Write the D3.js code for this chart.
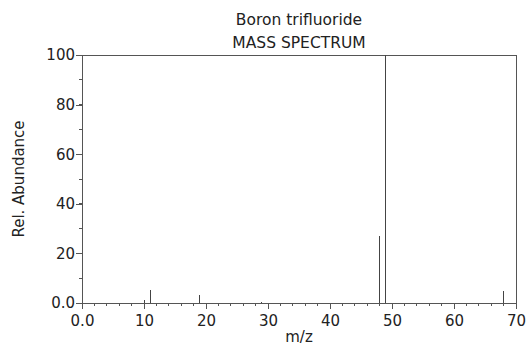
<!DOCTYPE html>
<html>
<head>
<meta charset="utf-8">
<script src="https://cdn.jsdelivr.net/npm/d3@7"></script>
<style>
  body { margin: 0; background: #fff; }
  svg text { font-family: "DejaVu Sans", sans-serif; fill: #222; }
</style>
</head>
<body>
<div id="chart"></div>
<script>
const title = "Boron trifluoride";
const subtitle = "MASS SPECTRUM";
const mz = [10, 11, 19, 29, 48, 49, 68];
const abundance = [1.3, 5.2, 3.2, 0.4, 27, 100, 4.9];
const xTicks = [0, 10, 20, 30, 40, 50, 60, 70];
const yTicks = [0, 20, 40, 60, 80, 100];

const margin = { top: 55, right: 12, bottom: 44, left: 82 },
  width = 528 - margin.left - margin.right,
  height = 347 - margin.top - margin.bottom;

const svg = d3.select("#chart")
  .append("svg")
  .attr("width", 528)
  .attr("height", 347);

const g = svg.append("g")
  .attr("transform", `translate(${margin.left},${margin.top})`);

const x = d3.scaleLinear().domain([0, 70]).range([0, width]);
const y = d3.scaleLinear().domain([0, 100]).range([height, 0]);

const lineColor = "#555";

// frame
g.append("rect")
  .attr("x", 0).attr("y", 0)
  .attr("width", width).attr("height", height)
  .attr("fill", "none")
  .attr("stroke", lineColor)
  .attr("stroke-width", 1)
  .attr("shape-rendering", "crispEdges");

// minor ticks
g.selectAll("line.xminor")
  .data(d3.range(0, 71, 2))
  .join("line")
  .attr("x1", d => x(d)).attr("x2", d => x(d))
  .attr("y1", height).attr("y2", height + 3)
  .attr("stroke", lineColor)
  .attr("shape-rendering", "crispEdges");

g.selectAll("line.yminor")
  .data(d3.range(0, 101, 10))
  .join("line")
  .attr("x1", -3).attr("x2", 0)
  .attr("y1", d => y(d)).attr("y2", d => y(d))
  .attr("stroke", lineColor)
  .attr("shape-rendering", "crispEdges");

const xAxis = g.append("g")
  .attr("transform", `translate(0,${height})`)
  .call(d3.axisBottom(x).tickValues(xTicks).tickSize(6).tickSizeOuter(0)
    .tickFormat(d => d === 0 ? "0.0" : d));

const yAxis = g.append("g")
  .call(d3.axisLeft(y).tickValues(yTicks).tickSize(6).tickSizeOuter(0)
    .tickFormat(d => d === 0 ? "0.0" : d));

[xAxis, yAxis].forEach(a => {
  a.select(".domain").remove();
  a.selectAll("line").attr("stroke", lineColor).attr("shape-rendering", "crispEdges");
  a.selectAll("text").style("font-size", "15px").style("font-family", "DejaVu Sans, sans-serif").attr("fill", "#222");
});
xAxis.selectAll("text").attr("dy", "0.9em");
yAxis.selectAll("text").attr("x", -7);

// peaks
g.selectAll("line.peak")
  .data(mz.map((m, i) => ({ m, a: abundance[i] })))
  .join("line")
  .attr("class", "peak")
  .attr("x1", d => x(d.m)).attr("x2", d => x(d.m))
  .attr("y1", height).attr("y2", d => y(d.a))
  .attr("stroke", "#444")
  .attr("stroke-width", 1)
  .attr("shape-rendering", "crispEdges");

// titles
svg.append("text")
  .attr("x", margin.left + width / 2).attr("y", 25)
  .attr("text-anchor", "middle")
  .style("font-size", "15.5px")
  .text(title);

svg.append("text")
  .attr("x", margin.left + width / 2).attr("y", 48)
  .attr("text-anchor", "middle")
  .style("font-size", "15.5px")
  .text(subtitle);

svg.append("text")
  .attr("x", margin.left + width / 2).attr("y", 342)
  .attr("text-anchor", "middle")
  .style("font-size", "15px")
  .text("m/z");

svg.append("text")
  .attr("transform", "rotate(-90)")
  .attr("x", -(margin.top + height / 2)).attr("y", 24)
  .attr("text-anchor", "middle")
  .style("font-size", "15px")
  .text("Rel. Abundance");
</script>
</body>
</html>
